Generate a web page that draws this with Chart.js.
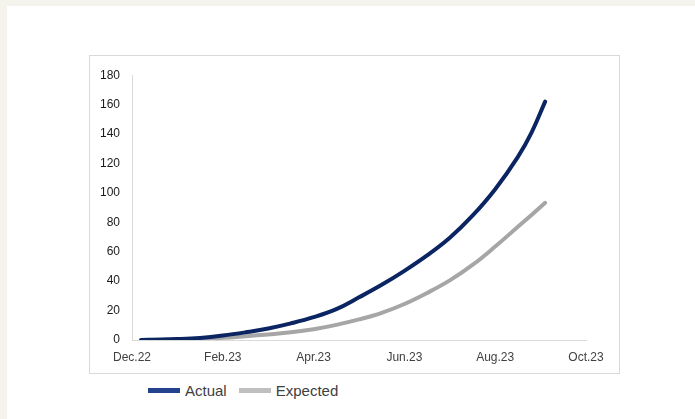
<!DOCTYPE html>
<html>
<head>
<meta charset="utf-8">
<script src="https://cdn.jsdelivr.net/npm/chart.js@4.4.1/dist/chart.umd.min.js"></script>
<style>
  html, body { margin: 0; padding: 0; }
  body { width: 695px; height: 419px; background: #f5f4ec; position: relative; overflow: hidden; font-family: "Liberation Sans", Arial, sans-serif; }
  #panel { position: absolute; left: 7px; top: 6px; right: 0; bottom: 0; background: #ffffff; }
  #chart-box { position: absolute; left: 89px; top: 55px; width: 529px; height: 317px; border: 1px solid #d9d9d9; }
  #chart-box canvas { display: block; }
  #legend { position: absolute; left: 148px; top: 382px; display: flex; align-items: center; font-size: 15px; color: #404040; }
  .swatch { display: inline-block; width: 32px; height: 5px; margin-right: 5px; }
  .item { display: flex; align-items: center; margin-right: 12px; }
</style>
</head>
<body>
<div id="panel"></div>
<div id="chart-box"><canvas id="growth-chart" width="529" height="317"></canvas></div>
<div id="legend"></div>

<script>
// months since Dec.22 (0 = Dec.22, 10 = Oct.23)
const monthPos = [0.2, 0.5, 1.0, 1.5, 2.0, 2.5, 3.0, 3.5, 4.0, 4.5, 5.0, 5.5, 6.0, 6.5, 7.0, 7.5, 8.0, 8.5, 8.8, 9.1];
const actualValues = [0, 0.2, 0.6, 1.4, 3.0, 5.2, 7.8, 11.3, 15.5, 21.0, 29.0, 37.5, 47.0, 57.5, 69.5, 84.5, 102.5, 124.5, 141, 162];
const expectedValues = [0, 0.1, 0.3, 0.8, 1.5, 2.6, 3.8, 5.2, 7.3, 10.3, 14.0, 18.5, 24.5, 32.0, 40.5, 51.0, 63.5, 77.0, 85.0, 93.3];
const tickLabels = ["Dec.22", "Feb.23", "Apr.23", "Jun.23", "Aug.23", "Oct.23"];
const seriesNames = ["Actual", "Expected"];

const lineColors = ["#0b2462", "#a6a6a6"];
const legendColors = ["#24438f", "#bfbfbf"];

function toPoints(values) {
    return values.map((v, i) => ({ x: monthPos[i], y: v }));
}

const ctx = document.getElementById("growth-chart");

new Chart(ctx, {
    type: 'line',
    data: {
        datasets: [
            { label: seriesNames[0], data: toPoints(actualValues), borderColor: lineColors[0], borderWidth: 4, pointRadius: 0, tension: 0.4, borderCapStyle: 'round', order: 1 },
            { label: seriesNames[1], data: toPoints(expectedValues), borderColor: lineColors[1], borderWidth: 4, pointRadius: 0, tension: 0.4, borderCapStyle: 'round', order: 2 }
        ]
    },
    options: {
        responsive: false,
        animation: false,
        layout: { padding: { top: 17, right: 33, bottom: 0, left: 0 } },
        plugins: { legend: { display: false }, tooltip: { enabled: false } },
        scales: {
            x: {
                type: 'linear',
                min: 0,
                max: 10,
                grid: { display: false, drawTicks: false },
                border: { display: true, color: '#d9d9d9', width: 1 },
                ticks: {
                    stepSize: 2,
                    padding: 10,
                    color: '#404040',
                    font: { family: 'Liberation Sans', size: 12 },
                    maxRotation: 0,
                    callback: (val) => tickLabels[val / 2]
                },
                afterFit: (scale) => { scale.height = 33; }
            },
            y: {
                min: 0,
                max: 180,
                grid: { display: false, drawTicks: false },
                border: { display: true, color: '#d9d9d9', width: 1 },
                ticks: {
                    stepSize: 20,
                    padding: 12,
                    color: '#1a1a1a',
                    font: { family: 'Liberation Sans', size: 12 }
                },
                afterFit: (scale) => { scale.width = 42; }
            }
        }
    }
});

// legend outside the chart box, like the original
const legendBox = document.getElementById("legend");
let html = "";
seriesNames.forEach((name, idx) => {
    html += `<div class="item"><span class="swatch" style="background:${legendColors[idx]}"></span><span>${name}</span></div>`;
});
legendBox.innerHTML = html;
</script>
</body>
</html>
